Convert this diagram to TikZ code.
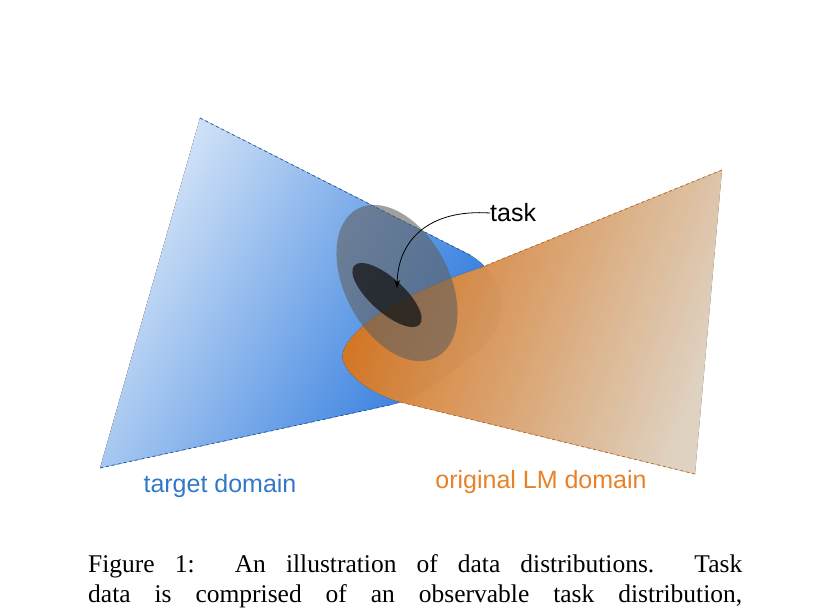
\documentclass[tikz,border=0pt]{standalone}
\usepackage{fontspec}
\setmainfont{Liberation Serif}
\newfontfamily\lab{Liberation Sans}
\usetikzlibrary{arrows.meta}
\definecolor{tblue}{RGB}{35,115,220}
\definecolor{lblue}{RGB}{215,230,248}
\definecolor{torange}{RGB}{245,128,25}
\definecolor{lorange}{RGB}{255,240,220}
\definecolor{bluetxt}{RGB}{50,120,200}
\definecolor{orgtxt}{RGB}{232,130,40}
\tikzset{
  edgeb/.style={dashed,draw=tblue!80!black,line width=0.8pt},
  edgeo/.style={dashed,draw=torange!80!black,line width=0.8pt},
  lbl/.style={font=\lab\fontsize{25}{28}\selectfont,inner sep=0pt}
}
\begin{document}
\begin{tikzpicture}[x=1pt,y=1pt]
\useasboundingbox (0,0) rectangle (829,614);
\clip (0,0) rectangle (829,614);
% blue domain
\fill[left color=lblue,right color=tblue,shading angle=60]
  (200,496) -- (470,359) .. controls (510,335) and (510,290) .. (480,265)
  .. controls (450,240) and (420,215) .. (390,209) -- (100,146) -- cycle;
\coordinate (b1) at (200,496); \coordinate (b2) at (470,359);
\coordinate (b3) at (100,146); \coordinate (b4) at (390,209);
\draw[edgeb] (b1) -- (b2);
\draw[edgeb] (b3) -- (b4);
% orange domain
\fill[left color=torange,right color=lorange,shading angle=70,opacity=0.85]
  (722,444) -- (480,346) .. controls (380,314) and (330,269) .. (345,249)
  .. controls (355,229) and (385,216) .. (400,212) -- (695,140) -- cycle;
\coordinate (o1) at (722,444); \coordinate (o2) at (480,346);
\coordinate (o3) at (695,140); \coordinate (o4) at (400,212);
\draw[edgeo] (o1) -- (o2);
\draw[edgeo] (o3) -- (o4);
% task ellipses
\fill[gray!75!black,opacity=0.6] (397,331) ellipse[x radius=84,y radius=52,rotate=-62];
\fill[black!90,opacity=0.78] (387,319) ellipse[x radius=44,y radius=17,rotate=-42];
\node[lbl,anchor=west] (task) at (490,401) {task};
\coordinate (tgt) at (397,326);
\draw[-{Stealth[length=8pt]},line width=0.8pt] (task.west) .. controls (430,405) and (398,375) .. (tgt);
\node[lbl,text=bluetxt] (tl) at (220,128) {target domain};
\node[lbl,text=orgtxt] (ol) at (541,132) {original LM domain};
\node[anchor=north west,inner sep=0pt,align=left,
  font=\fontsize{25.5}{30}\selectfont] (cap) at (88,60)
  {\makebox[654pt][s]{Figure 1:\ \ An illustration of data distributions.\ \ Task}\\
   \makebox[654pt][s]{data is comprised of an observable task distribution,}};
\end{tikzpicture}
\end{document}
